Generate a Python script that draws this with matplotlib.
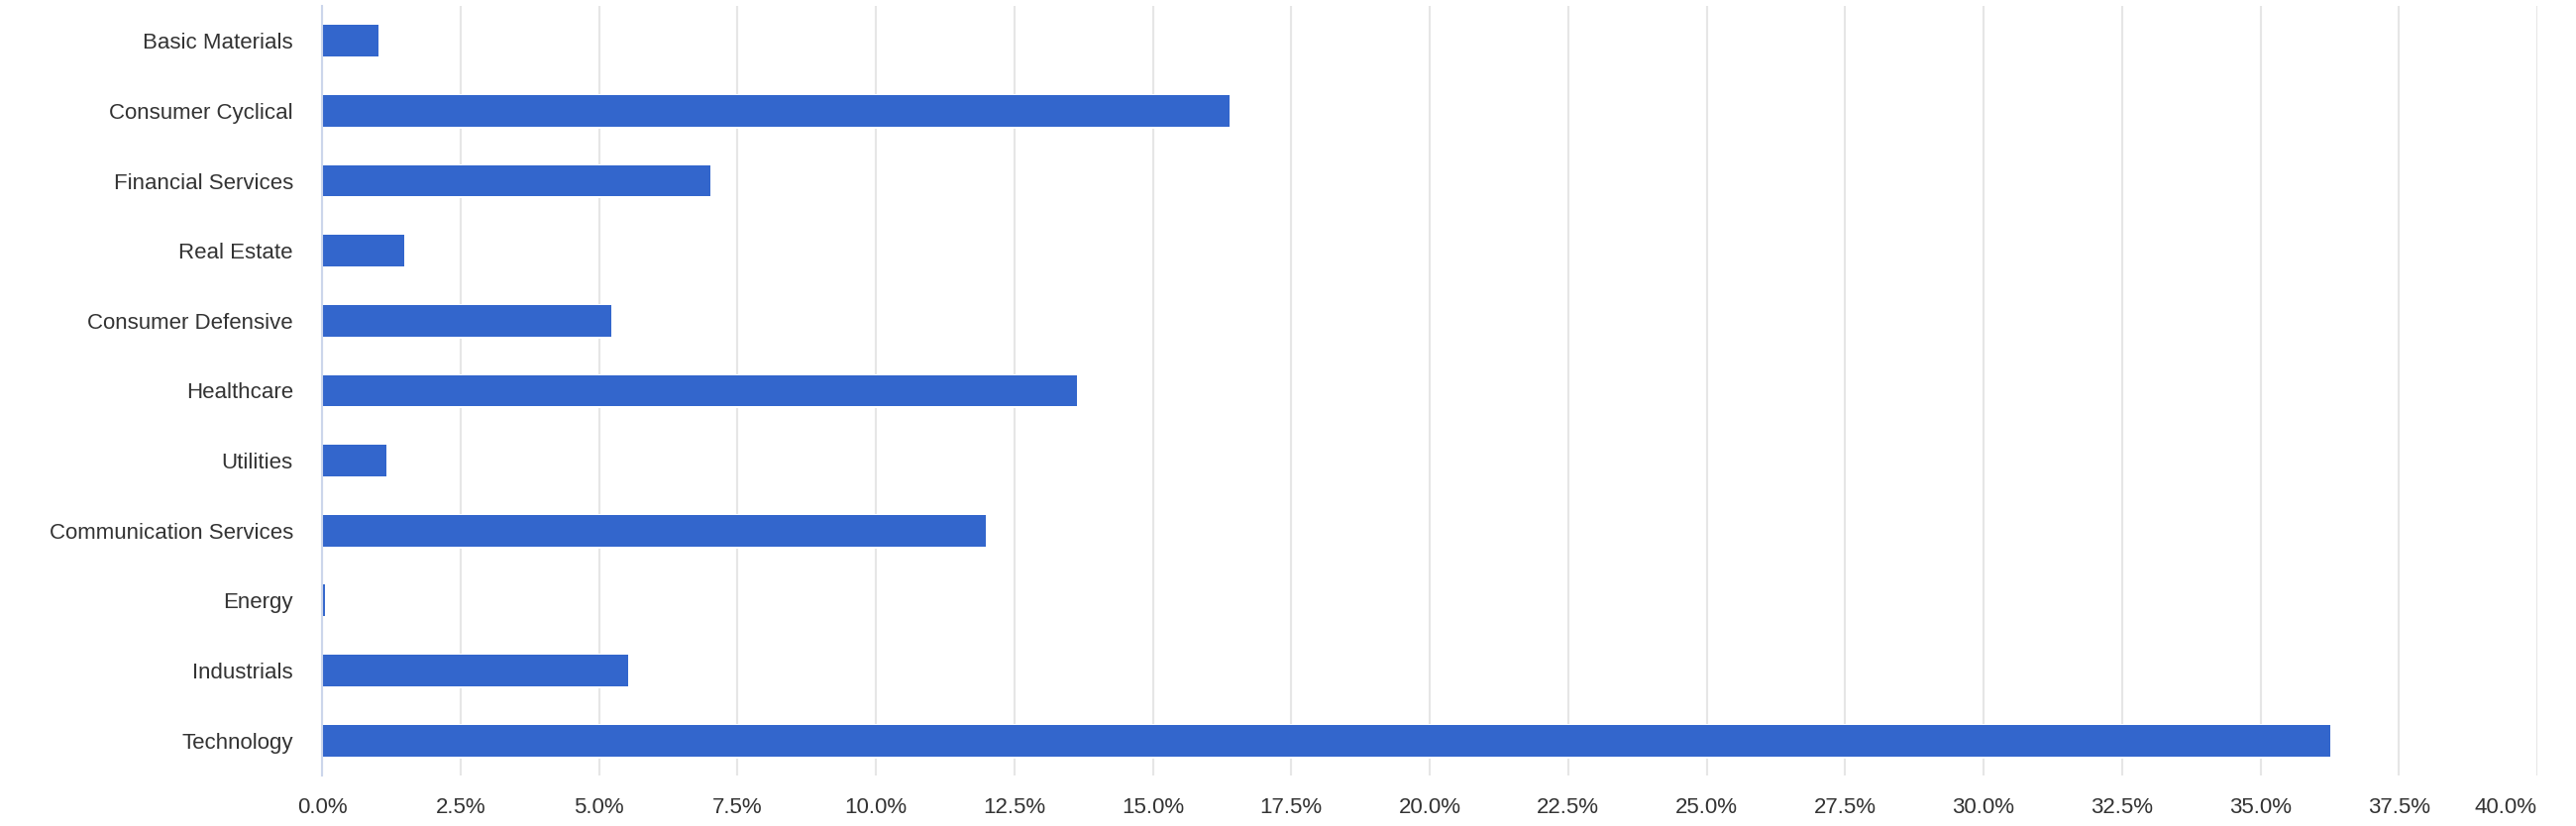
import matplotlib
matplotlib.use("Agg")
import matplotlib.pyplot as plt
from matplotlib.ticker import FixedLocator

categories = ["Basic Materials", "Consumer Cyclical", "Financial Services", "Real Estate",
              "Consumer Defensive", "Healthcare", "Utilities", "Communication Services",
              "Energy", "Industrials", "Technology"]
values = [1.02, 16.39, 7.02, 1.48, 5.23, 13.63, 1.16, 11.99, 0.06, 5.52, 36.27]
x_ticks = [0, 2.5, 5, 7.5, 10, 12.5, 15, 17.5, 20, 22.5, 25, 27.5, 30, 32.5, 35, 37.5, 40]
x_tick_labels = [f"{t:.1f}%" for t in x_ticks]

plt.rcParams['font.family'] = ['Liberation Sans', 'DejaVu Sans']

fig = plt.figure(figsize=(26, 8.34), dpi=100)
ax = fig.add_axes([0.125, 0.0612, 0.86, 0.9316])

y = list(range(len(categories)))
# white border halo behind the bars (interrupts the gridlines like the original)
ax.barh(y, values, height=0.45, color="white", edgecolor="white", linewidth=2.2, zorder=2)
ax.barh(y, values, height=0.45, color="#3366cc", linewidth=0, zorder=3)

ax.set_xlim(0, 40)
ax.set_ylim(len(categories) - 0.5, -0.5)
ax.xaxis.set_major_locator(FixedLocator(x_ticks))
ax.set_xticklabels(x_tick_labels)
ax.set_yticks(y)
ax.set_yticklabels(categories)

for s in ["top", "right", "bottom"]:
    ax.spines[s].set_visible(False)
ax.spines["left"].set_color("#ccd6eb")
ax.spines["left"].set_linewidth(1.5)
ax.spines["left"].set_zorder(4)

ax.grid(axis="x", color="#e6e6e6", linewidth=1.5, zorder=0)
ax.grid(axis="y", visible=False)
ax.set_axisbelow(True)

ax.tick_params(axis="x", length=0, pad=16, labelsize=16, labelcolor="#333333")
ax.tick_params(axis="y", length=0, pad=21, labelsize=16, labelcolor="#333333")

labels = ax.get_xticklabels()
labels[-1].set_horizontalalignment("right")

fig.savefig("out.png", dpi=100, facecolor="white")
